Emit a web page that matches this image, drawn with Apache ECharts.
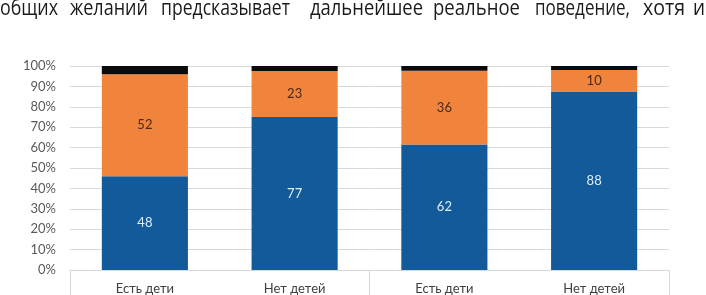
<!DOCTYPE html>
<html>
<head>
<meta charset="utf-8">
<script src="https://cdn.jsdelivr.net/npm/echarts@6/dist/echarts.min.js"></script>
<style>
  html, body { margin: 0; padding: 0; background: #fff; }
  #chart { width: 706px; height: 295px; }
</style>
</head>
<body>
<div id="chart"></div>
<script>
const categories = ["Есть дети", "Нет детей", "Есть дети", "Нет детей"];
const groups = ["", ""];

// segment heights (share of the bar)
const blueValues = [46, 75, 61.5, 87.5];
const orangeValues = [50, 22.5, 36.2, 10.5];
const blackValues = [4, 2.5, 2.3, 2];

// numbers printed on the segments
const blueLabels = [48, 77, 62, 88];
const orangeLabels = [52, 23, 36, 10];

const yTicks = [0, 10, 20, 30, 40, 50, 60, 70, 80, 90, 100];

const headWords = ["общих", "желаний", "предсказывает", "дальнейшее", "реальное", "поведение,", "хотя", "и"];
// justified line of body text: left/right edge of every word
const headSpan = [[0, 58], [70, 148], [161, 290], [310, 423], [433, 520], [535, 630], [643, 685], [693, 705]];

const font = "Lato";
const headFont = "22px 'Open Sans'";
const ctx = document.createElement("canvas").getContext("2d");
ctx.font = headFont;

const chart = echarts.init(document.getElementById("chart"));

const segment = (name, values, color, labels, labelColor) => ({
    name: name,
    type: "bar",
    stack: "all",
    barCategoryGap: "42.5%",
    data: values,
    itemStyle: { color: color },
    label: {
        show: !!labels,
        position: "inside",
        color: labelColor,
        fontFamily: font,
        fontSize: 13,
        formatter: (p) => (labels ? String(labels[p.dataIndex]) : ""),
    },
});

chart.setOption({
    animation: false,
    grid: { left: 70, right: 37, top: 66, bottom: 25 },
    graphic: headWords.map((w, i) => ({
        type: "text",
        x: headSpan[i][0],
        y: -2,
        scaleX: (headSpan[i][1] - headSpan[i][0]) / ctx.measureText(w).width,
        style: { text: w, font: headFont, fill: "#1a1a1a" },
    })),
    xAxis: [
        {
            type: "category",
            data: categories,
            axisLine: { show: false },
            axisTick: { show: false },
            axisLabel: { color: "#404040", fontFamily: font, fontSize: 13, margin: 12 },
        },
        {
            type: "category",
            data: groups,
            position: "bottom",
            axisLine: { show: true, lineStyle: { color: "#d9d9d9" } },
            axisTick: { show: true, length: 26, interval: 0, lineStyle: { color: "#d9d9d9" } },
            axisLabel: { show: false },
        },
    ],
    yAxis: {
        type: "value",
        min: 0,
        max: 100,
        interval: 10,
        axisLine: { show: false },
        axisTick: { show: false },
        splitLine: { lineStyle: { color: "#d9d9d9" } },
        axisLabel: {
            formatter: (v) => (yTicks.includes(v) ? v + "%" : ""),
            color: "#595959",
            fontFamily: font,
            fontSize: 13,
            margin: 14,
        },
    },
    series: [
        segment("a", blueValues, "#125a9a", blueLabels, "#dceeff"),
        segment("b", orangeValues, "#f0843c", orangeLabels, "#4a2a12"),
        segment("c", blackValues, "#0a0a0a", null, "#fff"),
    ],
});
</script>
</body>
</html>
